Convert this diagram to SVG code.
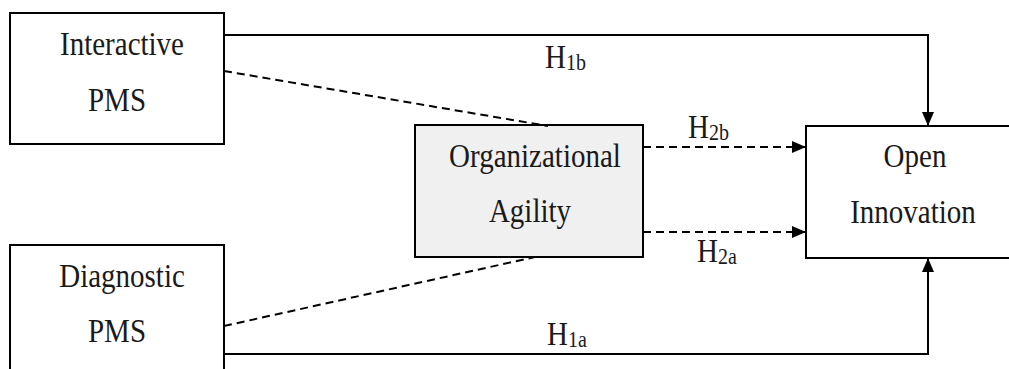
<svg xmlns="http://www.w3.org/2000/svg" width="1009" height="369" viewBox="0 0 1009 369">
<defs>
<style>
.box{fill:#fff;stroke:#000;stroke-width:2}
.gray{fill:#f0f0f0}
.t{font-family:"Liberation Serif","Times New Roman",serif;font-size:29px;fill:#1a1a1a;text-anchor:middle}
.h{font-family:"Liberation Serif","Times New Roman",serif;font-size:29px;fill:#1a1a1a}
.sub{font-size:20px}
.solid{fill:none;stroke:#000;stroke-width:2}
.dash{fill:none;stroke:#000;stroke-width:2;stroke-dasharray:8,5}
</style>
<marker id="arr" viewBox="0 0 14 12" refX="14" refY="6" markerWidth="14" markerHeight="12" markerUnits="userSpaceOnUse" orient="auto">
<path d="M0,0 L14,6 L0,12 Z" fill="#000"/>
</marker>
</defs>
<rect width="1009" height="369" fill="#fff"/>
<g id="interactive">
<rect class="box" x="10" y="13" width="214" height="131"/>
<text class="t" transform="translate(122,55) scale(1,1.13)">Interactive</text>
<text class="t" transform="translate(117,111) scale(1,1.13)">PMS</text>
</g>
<g id="diagnostic">
<rect class="box" x="10" y="245" width="214" height="140"/>
<text class="t" transform="translate(122,287) scale(1,1.13)">Diagnostic</text>
<text class="t" transform="translate(117,342) scale(1,1.13)">PMS</text>
</g>
<g id="agility">
<rect class="box gray" x="415" y="125" width="228" height="132"/>
<text class="t" transform="translate(535,167) scale(1,1.13)">Organizational</text>
<text class="t" transform="translate(530,222) scale(1,1.13)">Agility</text>
</g>
<g id="innovation">
<rect class="box" x="806" y="126" width="215" height="132"/>
<text class="t" transform="translate(915,167) scale(1,1.13)">Open</text>
<text class="t" transform="translate(913,223) scale(1,1.13)">Innovation</text>
</g>
<g id="connectors">
<path class="solid" d="M224,35 H928 V126" marker-end="url(#arr)"/>
<path class="solid" d="M224,354 H928 V258" marker-end="url(#arr)"/>
<path class="dash" d="M224,71 L548,126"/>
<path class="dash" d="M224,326 L535,257"/>
<path class="dash" d="M643,147 H806" marker-end="url(#arr)"/>
<path class="dash" d="M643,232 H806" marker-end="url(#arr)"/>
<text class="h" transform="translate(545,68) scale(1,1.13)">H<tspan class="sub" dy="2">1b</tspan></text>
<text class="h" transform="translate(547,345) scale(1,1.13)">H<tspan class="sub" dy="2">1a</tspan></text>
<text class="h" transform="translate(688,138) scale(1,1.13)">H<tspan class="sub" dy="2">2b</tspan></text>
<text class="h" transform="translate(697,262) scale(1,1.13)">H<tspan class="sub" dy="2">2a</tspan></text>
</g>
</svg>
